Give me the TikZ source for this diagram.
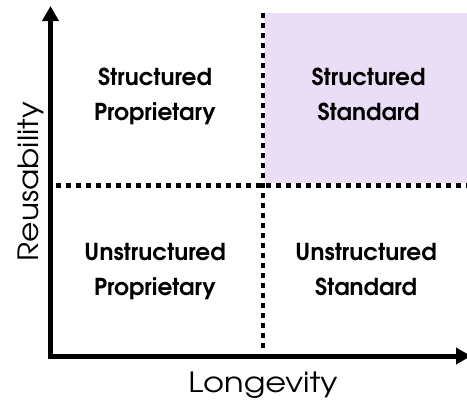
\documentclass[tikz,border=0pt]{standalone}
\usepackage{fontspec}
\setmainfont{TeX Gyre Adventor}
\usetikzlibrary{arrows.meta}
\definecolor{lav}{HTML}{E9DEF5}
\tikzset{
  axis/.style={line width=5bp,-{Triangle[length=15bp,width=16bp]}},
  divider/.style={line width=4.5bp,dash pattern=on 4.5bp off 5.5bp},
  quad/.style={font=\bfseries\fontsize{23.4}{34.5}\selectfont,align=center,inner sep=0pt,anchor=base},
  axlabel/.style={font=\fontsize{28}{30}\selectfont,inner sep=0pt,anchor=base}
}
\begin{document}
\begin{tikzpicture}[x=1bp,y=-1bp]
\useasboundingbox (0,0) rectangle (467,400);
\fill[lav] (265,13) rectangle (467,183);
\coordinate (o) at (50.5,356);
\coordinate (yt) at (50.5,6);
\coordinate (xt) at (471,356);
\coordinate (vt) at (263,13);
\coordinate (vb) at (263,353);
\coordinate (hl) at (56,185.5);
\coordinate (hr) at (467,185.5);
\draw[divider] (vt) -- (vb);
\draw[divider] (hl) -- (hr);
\draw[axis] ([yshift=2.5bp]o) -- (yt);
\draw[axis] ([xshift=-2.5bp]o) -- (xt);
\node[quad] (sp) at (155,120) {Structured\\Proprietary};
\node[quad] (ss) at (368.5,120) {Structured\\Standard};
\node[quad] (up) at (155,295) {Unstructured\\Proprietary};
\node[quad] (us) at (366,295) {Unstructured\\Standard};
\node[axlabel,xscale=1.15] (lx) at (263,392.5) {Longevity};
\node[axlabel,rotate=90,xscale=1.12] (ly) at (38,181.5) {Reusability};
\end{tikzpicture}
\end{document}
